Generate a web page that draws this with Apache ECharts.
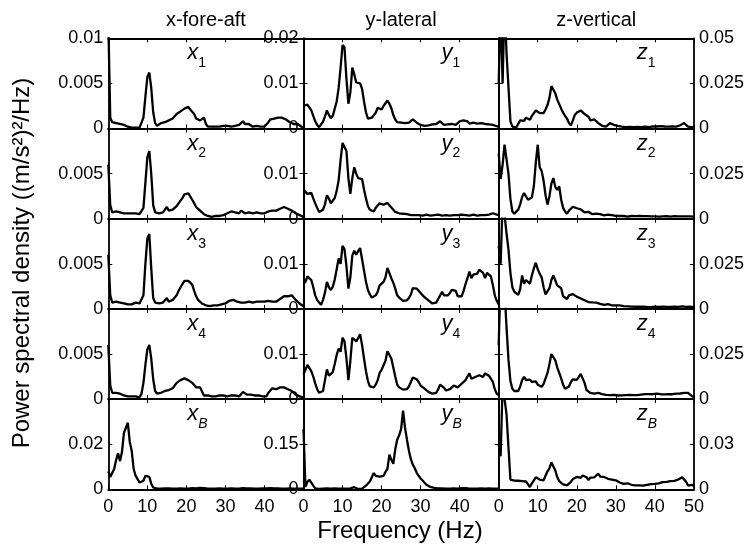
<!DOCTYPE html>
<html><head><meta charset="utf-8">
<script src="https://cdn.jsdelivr.net/npm/echarts@6/dist/echarts.min.js"></script>
<style>html,body{margin:0;padding:0;background:#fff}#c{width:752px;height:546px}</style>
</head><body><div id="c"></div>
<script>
const freq = [0,0.5,1,1.5,2,2.5,3,3.5,4,4.5,5,5.5,6,6.5,7,7.5,8,8.5,9,9.5,
10,10.5,11,11.5,12,12.5,13,13.5,14,14.5,15,15.5,16,16.5,17,17.5,18,18.5,19,19.5,
20,20.5,21,21.5,22,22.5,23,23.5,24,24.5,25,25.5,26,26.5,27,27.5,28,28.5,29,29.5,
30,30.5,31,31.5,32,32.5,33,33.5,34,34.5,35,35.5,36,36.5,37,37.5,38,38.5,39,39.5,
40,40.5,41,41.5,42,42.5,43,43.5,44,44.5,45,45.5,46,46.5,47,47.5,48,48.5,49,49.5,50];

const x1 = [0.012,0.0012,0.0007,0.0008,0.0006,0.0007,0.0005,0.0006,0.0004,0.0003,
0.0002,0.0002,0.0001,0.0001,0.0001,0.0001,0.0001,0.0002,0.0012,0.0035,
0.0057,0.0062,0.0045,0.0018,0.0006,0.0003,0.0004,0.0006,0.0005,0.0007,
0.0006,0.0009,0.0008,0.0011,0.0012,0.0016,0.0015,0.0019,0.0017,0.0022,
0.0020,0.0024,0.0021,0.0019,0.0016,0.0011,0.0013,0.0009,0.0011,0.0012,
0.0005,0.0002,0.0001,0.0002,0.0003,0.0002,0.0003,0.0002,0.0003,0.0003,
0.0002,0.0003,0.0003,0.0002,0.0003,0.0003,0.0003,0.0004,0.0006,0.0008,
0.0005,0.0004,0.0005,0.0003,0.0002,0.0002,0.0003,0.0002,0.0002,0.0002,
0.0002,0.0003,0.0007,0.0010,0.0012,0.0011,0.0013,0.0012,0.0014,0.0012,
0.0013,0.0010,0.0011,0.0007,0.0006,0.0005,0.0004,0.0005,0.0003,0.0002,0.0001];

const y1 = [0.0050,0.0048,0.0053,0.0050,0.0040,0.0028,0.0016,0.0008,0.0003,0.0005,
0.0015,0.0027,0.0040,0.0030,0.0023,0.0028,0.0032,0.0060,0.0090,0.0135,
0.0185,0.0180,0.0110,0.0055,0.0080,0.0135,0.0120,0.0102,0.0105,0.0100,
0.0088,0.0060,0.0036,0.0022,0.0020,0.0024,0.0027,0.0035,0.0046,0.0044,
0.0042,0.0050,0.0056,0.0062,0.0055,0.0045,0.0030,0.0020,0.0014,0.0012,
0.0013,0.0011,0.0012,0.0010,0.0013,0.0016,0.0020,0.0018,0.0013,0.0011,
0.0008,0.0008,0.0006,0.0008,0.0007,0.0006,0.0009,0.0007,0.0010,0.0014,
0.0016,0.0012,0.0008,0.0007,0.0009,0.0006,0.0010,0.0012,0.0008,0.0012,
0.0016,0.0020,0.0018,0.0021,0.0016,0.0011,0.0009,0.0013,0.0015,0.0011,
0.0009,0.0012,0.0008,0.0010,0.0007,0.0009,0.0006,0.0008,0.0006,0.0005,0.0004];

const z1 = [0.025,0.070,0.025,0.070,0.042,0.023,0.004,0.001,0.0008,0.0006,
0.0015,0.0045,0.0050,0.0042,0.0060,0.0052,0.0048,0.0070,0.0080,0.0100,
0.0095,0.0086,0.0078,0.0085,0.0105,0.0130,0.0170,0.0235,0.0230,0.0195,
0.0160,0.0135,0.0110,0.0088,0.0070,0.0055,0.0030,0.0018,0.0045,0.0075,
0.0088,0.0080,0.0100,0.0095,0.0080,0.0082,0.0065,0.0045,0.0040,0.0050,
0.0040,0.0030,0.0022,0.0015,0.0008,0.0010,0.0020,0.0030,0.0028,0.0020,
0.0016,0.0014,0.0012,0.0010,0.0011,0.0008,0.0010,0.0009,0.0011,0.0008,
0.0010,0.0009,0.0012,0.0008,0.0010,0.0011,0.0009,0.0008,0.0010,0.0012,
0.0009,0.0011,0.0010,0.0013,0.0009,0.0011,0.0014,0.0010,0.0012,0.0012,
0.0015,0.0010,0.0014,0.0018,0.0012,0.0030,0.0020,0.0010,0.0006,0.0008,0.0005];

const x2 = [0.006,0.0015,0.0007,0.0009,0.0008,0.0006,0.0007,0.0007,0.0006,0.0005,
0.0006,0.0005,0.0006,0.0007,0.0006,0.0005,0.0005,0.0006,0.0012,0.0040,
0.0068,0.0075,0.0050,0.0015,0.0007,0.0005,0.0006,0.0006,0.0007,0.0008,
0.0013,0.0009,0.0008,0.0010,0.0011,0.0014,0.0016,0.0020,0.0023,0.0027,
0.0028,0.0028,0.0026,0.0021,0.0017,0.0013,0.0011,0.0009,0.0007,0.0005,
0.0004,0.0003,0.0003,0.0002,0.0003,0.0003,0.0002,0.0003,0.0003,0.0004,
0.0005,0.0006,0.0007,0.0008,0.0009,0.0007,0.0008,0.0006,0.0009,0.0007,
0.0006,0.0005,0.0007,0.0008,0.0006,0.0007,0.0007,0.0005,0.0006,0.0005,
0.0006,0.0007,0.0008,0.0007,0.0009,0.0010,0.0009,0.0010,0.0011,0.0012,
0.0013,0.0014,0.0011,0.0012,0.0009,0.0008,0.0006,0.0005,0.0004,0.0003,0.0002];

const y2 = [0.0065,0.0064,0.0055,0.0052,0.0057,0.0045,0.0034,0.0024,0.0015,0.0011,
0.0020,0.0032,0.0052,0.0045,0.0034,0.0040,0.0046,0.0062,0.0085,0.0130,
0.0168,0.0170,0.0150,0.0090,0.0055,0.0090,0.0114,0.0100,0.0090,0.0094,
0.0088,0.0065,0.0045,0.0028,0.0020,0.0016,0.0016,0.0024,0.0029,0.0034,
0.0033,0.0031,0.0034,0.0035,0.0030,0.0025,0.0020,0.0015,0.0013,0.0012,
0.0012,0.0011,0.0010,0.0010,0.0009,0.0008,0.0009,0.0008,0.0007,0.0008,
0.0008,0.0007,0.0008,0.0009,0.0008,0.0007,0.0008,0.0008,0.0007,0.0009,
0.0008,0.0007,0.0008,0.0008,0.0009,0.0007,0.0008,0.0008,0.0007,0.0008,
0.0008,0.0009,0.0007,0.0008,0.0008,0.0007,0.0008,0.0009,0.0008,0.0007,
0.0008,0.0008,0.0007,0.0008,0.0009,0.0009,0.0011,0.0012,0.0011,0.0009,0.0008];

const z2 = [0.036,0.022,0.030,0.041,0.040,0.025,0.011,0.004,0.0028,0.0023,
0.0050,0.0080,0.0120,0.0142,0.0123,0.0105,0.0108,0.0118,0.0180,0.0310,
0.0410,0.0285,0.0265,0.0210,0.0130,0.0078,0.0125,0.0195,0.0225,0.0175,
0.0160,0.0180,0.0105,0.0060,0.0040,0.0028,0.0045,0.0055,0.0066,0.0062,
0.0058,0.0062,0.0052,0.0045,0.0035,0.0040,0.0038,0.0030,0.0025,0.0022,
0.0028,0.0030,0.0025,0.0020,0.0018,0.0020,0.0022,0.0025,0.0020,0.0018,
0.0015,0.0014,0.0016,0.0013,0.0015,0.0014,0.0012,0.0014,0.0015,0.0013,
0.0014,0.0013,0.0015,0.0012,0.0014,0.0013,0.0014,0.0012,0.0013,0.0014,
0.0013,0.0015,0.0012,0.0014,0.0013,0.0012,0.0014,0.0013,0.0012,0.0013,
0.0014,0.0012,0.0013,0.0012,0.0013,0.0012,0.0013,0.0012,0.0013,0.0012,0.0012];

const x3 = [0.006,0.0015,0.0007,0.0006,0.0008,0.0006,0.0007,0.0005,0.0006,0.0006,
0.0005,0.0007,0.0005,0.0006,0.0007,0.0005,0.0006,0.0008,0.0015,0.0050,
0.0078,0.0083,0.0045,0.0012,0.0007,0.0006,0.0006,0.0007,0.0007,0.0009,
0.0012,0.0008,0.0008,0.0010,0.0012,0.0015,0.0020,0.0024,0.0026,0.0031,
0.0032,0.0031,0.0029,0.0027,0.0020,0.0014,0.0010,0.0009,0.0006,0.0005,
0.0004,0.0004,0.0003,0.0004,0.0004,0.0003,0.0004,0.0004,0.0005,0.0005,
0.0006,0.0007,0.0009,0.0011,0.0010,0.0009,0.0008,0.0009,0.0007,0.0008,
0.0007,0.0006,0.0008,0.0009,0.0007,0.0006,0.0008,0.0007,0.0008,0.0009,
0.0008,0.0010,0.0009,0.0007,0.0008,0.0009,0.0008,0.0010,0.0011,0.0012,
0.0014,0.0013,0.0014,0.0012,0.0015,0.0013,0.0010,0.0008,0.0006,0.0004,0.0003];

const y3 = [0.0055,0.0060,0.0072,0.0068,0.0064,0.0048,0.0030,0.0020,0.0014,0.0009,
0.0020,0.0036,0.0060,0.0048,0.0042,0.0049,0.0065,0.0088,0.0112,0.0100,
0.0140,0.0132,0.0095,0.0045,0.0070,0.0118,0.0129,0.0120,0.0128,0.0135,
0.0110,0.0085,0.0060,0.0042,0.0032,0.0025,0.0023,0.0030,0.0038,0.0052,
0.0056,0.0060,0.0070,0.0091,0.0092,0.0068,0.0058,0.0045,0.0030,0.0025,
0.0022,0.0018,0.0017,0.0019,0.0024,0.0032,0.0046,0.0050,0.0045,0.0040,
0.0035,0.0031,0.0026,0.0023,0.0019,0.0016,0.0012,0.0011,0.0014,0.0022,
0.0030,0.0038,0.0030,0.0026,0.0030,0.0035,0.0042,0.0044,0.0040,0.0028,
0.0026,0.0028,0.0040,0.0055,0.0068,0.0083,0.0068,0.0076,0.0072,0.0078,
0.0087,0.0091,0.0080,0.0068,0.0080,0.0083,0.0072,0.0053,0.0030,0.0018,0.0010];

const z3 = [0.035,0.025,0.060,0.052,0.042,0.033,0.020,0.012,0.0095,0.0085,
0.0078,0.0110,0.0185,0.0140,0.0160,0.0150,0.0140,0.0185,0.0225,0.0256,
0.0220,0.0195,0.0175,0.0120,0.0080,0.0070,0.0115,0.0160,0.0185,0.0180,
0.0130,0.0135,0.0115,0.0070,0.0060,0.0055,0.0075,0.0085,0.0082,0.0075,
0.0068,0.0062,0.0058,0.0055,0.0048,0.0042,0.0038,0.0034,0.0036,0.0040,
0.0035,0.0032,0.0028,0.0023,0.0022,0.0025,0.0026,0.0022,0.0020,0.0019,
0.0020,0.0018,0.0019,0.0017,0.0015,0.0013,0.0014,0.0012,0.0013,0.0011,
0.0012,0.0010,0.0012,0.0011,0.0013,0.0010,0.0011,0.0012,0.0010,0.0011,
0.0012,0.0010,0.0011,0.0013,0.0012,0.0010,0.0011,0.0012,0.0011,0.0010,
0.0012,0.0013,0.0011,0.0012,0.0014,0.0012,0.0011,0.0013,0.0012,0.0011,0.0010];

const x4 = [0.006,0.0015,0.0007,0.0006,0.0007,0.0006,0.0006,0.0005,0.0004,0.0003,
0.0003,0.0002,0.0003,0.0002,0.0003,0.0002,0.0002,0.0006,0.0018,0.0038,
0.0055,0.0060,0.0045,0.0022,0.0009,0.0006,0.0006,0.0007,0.0008,0.0009,
0.0009,0.0010,0.0010,0.0012,0.0015,0.0018,0.0019,0.0021,0.0020,0.0023,
0.0022,0.0021,0.0019,0.0018,0.0016,0.0013,0.0012,0.0013,0.0012,0.0004,
0.0003,0.0004,0.0003,0.0003,0.0004,0.0003,0.0004,0.0004,0.0003,0.0004,
0.0004,0.0003,0.0004,0.0004,0.0003,0.0004,0.0004,0.0003,0.0005,0.0008,
0.0007,0.0005,0.0006,0.0005,0.0004,0.0004,0.0003,0.0004,0.0003,0.0003,
0.0004,0.0003,0.0007,0.0009,0.0012,0.0013,0.0011,0.0012,0.0013,0.0012,
0.0013,0.0012,0.0011,0.0010,0.0009,0.0007,0.0005,0.0004,0.0003,0.0002,0.0002];

const y4 = [0.0055,0.0065,0.0076,0.0072,0.0062,0.0050,0.0035,0.0022,0.0014,0.0011,
0.0018,0.0042,0.0066,0.0052,0.0050,0.0060,0.0078,0.0098,0.0112,0.0105,
0.0136,0.0128,0.0090,0.0042,0.0085,0.0136,0.0132,0.0128,0.0135,0.0144,
0.0120,0.0090,0.0062,0.0040,0.0028,0.0025,0.0026,0.0032,0.0042,0.0058,
0.0065,0.0066,0.0085,0.0106,0.0110,0.0090,0.0070,0.0050,0.0032,0.0026,
0.0023,0.0021,0.0019,0.0022,0.0028,0.0038,0.0048,0.0047,0.0044,0.0038,
0.0030,0.0026,0.0023,0.0020,0.0016,0.0014,0.0012,0.0011,0.0014,0.0022,
0.0032,0.0030,0.0025,0.0019,0.0020,0.0022,0.0026,0.0030,0.0028,0.0026,
0.0029,0.0034,0.0038,0.0042,0.0050,0.0057,0.0045,0.0042,0.0049,0.0052,
0.0053,0.0050,0.0049,0.0057,0.0054,0.0052,0.0049,0.0038,0.0022,0.0012,0.0009];

const z4 = [0.030,0.070,0.070,0.060,0.040,0.022,0.010,0.0057,0.0045,0.0040,
0.0045,0.0070,0.0105,0.0123,0.0105,0.0112,0.0108,0.0095,0.0100,0.0098,
0.0080,0.0070,0.0068,0.0085,0.0115,0.0145,0.0195,0.0250,0.0245,0.0215,
0.0175,0.0145,0.0115,0.0080,0.0058,0.0048,0.0070,0.0095,0.0110,0.0108,
0.0106,0.0122,0.0140,0.0150,0.0090,0.0050,0.0040,0.0034,0.0032,0.0030,
0.0033,0.0034,0.0030,0.0028,0.0025,0.0023,0.0024,0.0022,0.0024,0.0023,
0.0022,0.0020,0.0019,0.0021,0.0020,0.0022,0.0024,0.0023,0.0021,0.0022,
0.0024,0.0022,0.0023,0.0025,0.0027,0.0028,0.0030,0.0028,0.0029,0.0027,
0.0028,0.0030,0.0028,0.0027,0.0028,0.0026,0.0027,0.0028,0.0029,0.0027,
0.0028,0.0030,0.0029,0.0031,0.0032,0.0034,0.0033,0.0034,0.0026,0.0016,0.0012];

const xB = [0.008,0.0055,0.0050,0.0090,0.0130,0.0160,0.0125,0.0165,0.0250,0.0255,
0.0295,0.0210,0.0170,0.0090,0.0060,0.0045,0.0030,0.0028,0.0038,0.0060,
0.0065,0.0055,0.0025,0.0008,0.0004,0.0003,0.0004,0.0003,0.0008,0.0004,
0.0003,0.0004,0.0003,0.0003,0.0004,0.0003,0.0003,0.0004,0.0003,0.0003,
0.0004,0.0003,0.0004,0.0005,0.0007,0.0004,0.0005,0.0006,0.0008,0.0005,
0.0004,0.0003,0.0004,0.0003,0.0004,0.0003,0.0003,0.0004,0.0003,0.0003,
0.0004,0.0003,0.0003,0.0004,0.0003,0.0003,0.0004,0.0003,0.0004,0.0005,
0.0006,0.0004,0.0003,0.0004,0.0003,0.0003,0.0004,0.0003,0.0003,0.0004,
0.0003,0.0004,0.0003,0.0005,0.0006,0.0004,0.0003,0.0004,0.0003,0.0003,
0.0004,0.0003,0.0003,0.0004,0.0003,0.0003,0.0004,0.0003,0.0003,0.0003,0.0003];

const yB = [0.200,0.008,0.025,0.032,0.026,0.012,0.003,0.001,0.001,0.002,
0.002,0.002,0.003,0.002,0.002,0.002,0.003,0.002,0.002,0.002,
0.002,0.003,0.002,0.002,0.003,0.006,0.007,0.003,0.001,0.000,
0.002,0.005,0.012,0.018,0.026,0.040,0.054,0.045,0.048,0.042,
0.040,0.045,0.058,0.068,0.115,0.098,0.085,0.133,0.165,0.180,
0.200,0.262,0.205,0.165,0.128,0.100,0.082,0.070,0.055,0.045,
0.036,0.029,0.022,0.015,0.011,0.008,0.006,0.005,0.004,0.003,
0.002,0.003,0.002,0.002,0.003,0.002,0.002,0.003,0.002,0.002,
0.003,0.004,0.006,0.004,0.002,0.002,0.003,0.002,0.002,0.002,
0.002,0.003,0.002,0.002,0.002,0.003,0.002,0.002,0.002,0.002,0.002];

const zB = [0.030,0.022,0.070,0.070,0.050,0.028,0.0065,0.0055,0.0058,0.0052,
0.0057,0.0050,0.0055,0.0048,0.0052,0.0040,0.0015,0.0040,0.0060,0.0080,
0.0075,0.0065,0.0055,0.0060,0.0090,0.0120,0.0140,0.0180,0.0175,0.0125,
0.0080,0.0055,0.0042,0.0032,0.0029,0.0026,0.0035,0.0050,0.0068,0.0080,
0.0082,0.0086,0.0076,0.0092,0.0095,0.0080,0.0062,0.0078,0.0085,0.0080,
0.0090,0.0104,0.0085,0.0078,0.0082,0.0075,0.0070,0.0068,0.0065,0.0068,
0.0060,0.0052,0.0045,0.0040,0.0036,0.0038,0.0040,0.0034,0.0030,0.0027,
0.0026,0.0025,0.0026,0.0024,0.0025,0.0028,0.0030,0.0029,0.0035,0.0040,
0.0036,0.0038,0.0040,0.0045,0.0048,0.0046,0.0050,0.0052,0.0055,0.0058,
0.0056,0.0060,0.0065,0.0072,0.0080,0.0075,0.0050,0.0025,0.0028,0.0030,0.0022];

const columnTitles = ['x-fore-aft', 'y-lateral', 'z-vertical'];
const axisLetters = ['x', 'y', 'z'];
const rowSubscripts = ['1', '2', '3', '4', 'B'];
const yMax = [[0.01,0.02,0.05],[0.01,0.02,0.05],[0.01,0.02,0.05],[0.01,0.02,0.05],[0.04,0.3,0.06]];
const yStep = [[0.005,0.01,0.025],[0.005,0.01,0.025],[0.005,0.01,0.025],[0.005,0.01,0.025],[0.02,0.15,0.03]];
const freqMax = 50, freqStep = 10;
const panels = [[x1,y1,z1],[x2,y2,z2],[x3,y3,z3],[x4,y4,z4],[xB,yB,zB]];

const FF = "'Liberation Sans', Arial, Helvetica, sans-serif";
const L0 = 108.3, T0 = 38.3, W = 195.2, H = 90.2;
const fmt = v => String(+(+v).toPrecision(6));

const grid = [], xAxis = [], yAxis = [], series = [], graphic = [];
const axisLine = {show: true, onZero: false, lineStyle: {color: '#000', width: 1.8}};
const axisTick = {show: true, inside: true, length: 4, lineStyle: {color: '#000', width: 1}};

for (let r = 0; r < 5; r++) {
  for (let c = 0; c < 3; c++) {
    const k = r * 3 + c;
    const left = L0 + c * W, top = T0 + r * H;
    grid.push({left: left, top: top, width: W, height: H, containLabel: false, outerBoundsMode: 'none'});
    const xBase = {gridIndex: k, type: 'value', min: 0, max: freqMax, interval: freqStep,
      axisLine: axisLine, axisTick: axisTick, splitLine: {show: false}};
    xAxis.push(Object.assign({}, xBase, {position: 'bottom',
      axisLabel: {show: r === 4, color: '#000', fontSize: 18, fontFamily: FF, margin: 9,
        formatter: v => (c < 2 && v === freqMax) ? '' : fmt(v)}}));
    xAxis.push(Object.assign({}, xBase, {position: 'top', axisLabel: {show: false}}));
    const ym = yMax[r][c];
    const yBase = {gridIndex: k, type: 'value', min: 0, max: ym, interval: yStep[r][c],
      axisLine: axisLine, axisTick: axisTick, splitLine: {show: false}};
    const lab = show => ({show: show, color: '#000', fontSize: 18, fontFamily: FF, margin: 5,
      formatter: v => (r > 0 && Math.abs(v - ym) < 1e-12) ? '' : fmt(v)});
    yAxis.push(Object.assign({}, yBase, {position: 'left', axisLabel: lab(c < 2)}));
    yAxis.push(Object.assign({}, yBase, {position: 'right', axisLabel: lab(c === 2)}));
    const vals = panels[r][c];
    series.push({type: 'line', xAxisIndex: 2 * k, yAxisIndex: 2 * k,
      data: freq.map((f, i) => [f, vals[i]]), showSymbol: false, symbol: 'none',
      lineStyle: {color: '#000', width: 2.3}, clip: true, silent: true, animation: false});
    const lx = left + (c === 0 ? 79 : 138);
    graphic.push({type: 'text', x: lx, y: top + 15,
      style: {text: axisLetters[c], font: 'italic 22px ' + FF, fill: '#000', align: 'left', verticalAlign: 'middle'}});
    graphic.push({type: 'text', x: lx + 11, y: top + 25,
      style: {text: rowSubscripts[r], font: (r === 4 ? 'italic ' : '') + '14px ' + FF, fill: '#000', align: 'left', verticalAlign: 'middle'}});
  }
}
for (let c = 0; c < 3; c++) {
  graphic.push({type: 'text', x: L0 + c * W + W / 2, y: 20,
    style: {text: columnTitles[c], font: '20px ' + FF, fill: '#000', align: 'center', verticalAlign: 'middle'}});
}
graphic.push({type: 'text', x: 400, y: 531,
  style: {text: 'Frequency (Hz)', font: '24px ' + FF, fill: '#000', align: 'center', verticalAlign: 'middle'}});
graphic.push({type: 'text', x: 22, y: 263, rotation: Math.PI / 2,
  style: {text: 'Power spectral density ((m/s\u00B2)\u00B2/Hz)', font: '24px ' + FF, fill: '#000', align: 'center', verticalAlign: 'middle'}});

const chart = echarts.init(document.getElementById('c'), null, {renderer: 'canvas'});
chart.setOption({backgroundColor: '#fff', animation: false, grid, xAxis, yAxis, series, graphic});
</script></body></html>
